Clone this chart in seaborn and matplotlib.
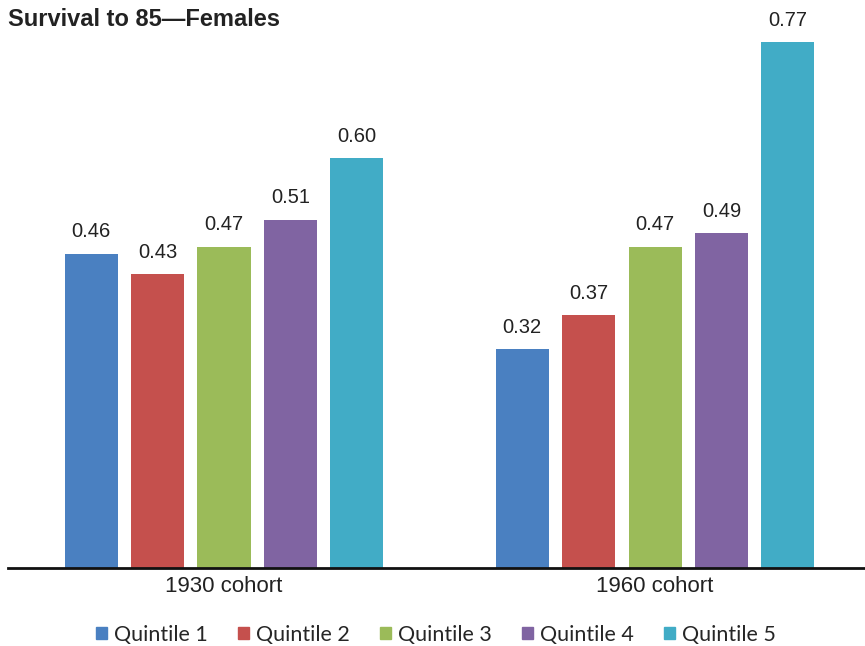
import matplotlib
matplotlib.use("Agg")
import matplotlib.pyplot as plt
import seaborn as sns
import pandas as pd

# Survival probabilities to age 85 by lifetime earnings quintile
cohorts = ["1930 cohort", "1960 cohort"]
quintiles = ["Quintile 1", "Quintile 2", "Quintile 3", "Quintile 4", "Quintile 5"]
values_1930 = [0.46, 0.43, 0.47, 0.51, 0.60]
values_1960 = [0.32, 0.37, 0.47, 0.49, 0.77]
colors = ["#4a80c1", "#c5504d", "#9bbb59", "#8064a2", "#41acc6"]

df = pd.DataFrame({
    "cohort": [cohorts[0]] * len(quintiles) + [cohorts[1]] * len(quintiles),
    "quintile": quintiles * 2,
    "value": values_1930 + values_1960,
})

sns.set_theme(style="white")
plt.rcParams["font.family"] = ["Liberation Sans", "DejaVu Sans"]

fig = plt.figure(figsize=(8.65, 6.46), dpi=100)
ax = fig.add_axes([8 / 865, 78 / 646, 857 / 865, 538 / 646])

sns.barplot(data=df, x="cohort", y="value", hue="quintile",
            hue_order=quintiles, order=cohorts, palette=colors,
            width=0.77, gap=0.2, saturation=1, errorbar=None,
            linewidth=0, legend=True, ax=ax)

for cont in ax.containers:
    ax.bar_label(cont, fmt="%.2f", padding=9, fontsize=14.5, color="#222222")

ax.set_xlim(-0.501, 1.487)
ax.set_ylim(0, 0.7877)
ax.set_yticks([])
ax.set_xlabel("")
ax.set_ylabel("")
for side in ["top", "right", "left"]:
    ax.spines[side].set_visible(False)
ax.spines["bottom"].set_color("#111111")
ax.spines["bottom"].set_linewidth(2)
ax.tick_params(axis="x", length=0, pad=6, labelsize=16, colors="#222222")

ax.get_legend().remove()
handles = [plt.Rectangle((0, 0), 1, 1, color=c) for c in colors]
fig.legend(handles, quintiles, loc="center", bbox_to_anchor=(436 / 865, 11 / 646),
           ncol=5, frameon=False, handlelength=0.5, handleheight=0.5,
           handletextpad=0.33, columnspacing=1.4,
           prop={"family": ["Lato", "DejaVu Sans"], "size": 15.5})

fig.text(8 / 865, 1 - 20 / 646, "Survival to 85\u2014Females", fontsize=17,
         fontweight="bold", color="#222222", va="center", ha="left")

fig.savefig("out.png", dpi=100, facecolor="white")
